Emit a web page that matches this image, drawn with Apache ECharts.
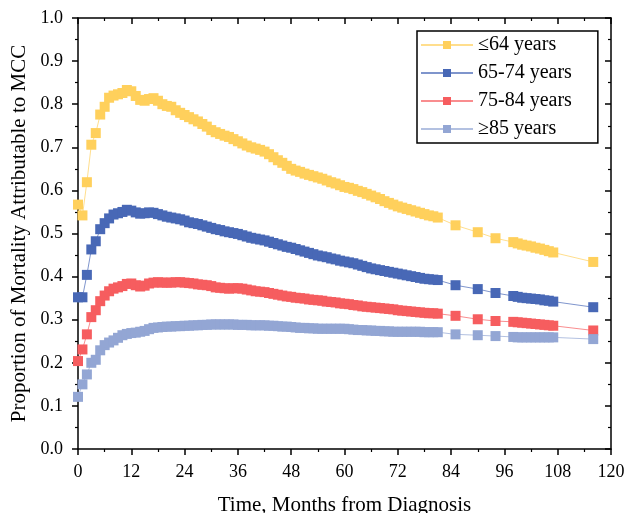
<!DOCTYPE html>
<html>
<head>
<meta charset="utf-8">
<script src="https://cdn.jsdelivr.net/npm/echarts@6/dist/echarts.min.js"></script>
<style>
  html, body { margin: 0; padding: 0; background: #fff; }
  #chart { width: 627px; height: 513px; }
</style>
</head>
<body>
<div id="chart"></div>
<script>
// months observed (monthly to 81, then sparse tail)
var months = [
  0,1,2,3,4,5,6,7,8,9,10,11,12,13,14,15,16,17,18,19,20,21,22,23,24,25,26,27,28,29,
  30,31,32,33,34,35,36,37,38,39,40,41,42,43,44,45,46,47,48,49,50,51,52,53,54,55,56,57,58,59,
  60,61,62,63,64,65,66,67,68,69,70,71,72,73,74,75,76,77,78,79,80,81,
  85,90,94,98,99,100,101,102,103,104,105,106,107,116
]

var age64 = [
  0.567,0.542,0.619,0.706,0.733,0.776,0.794,0.815,0.820,0.823,0.826,0.833,0.830,0.819,0.810,
  0.808,0.812,0.814,0.808,0.800,0.796,0.794,0.786,0.780,0.775,0.770,0.765,0.760,0.754,0.748,
  0.740,0.735,0.731,0.727,0.724,0.719,0.714,0.709,0.704,0.700,0.697,0.694,0.690,0.684,0.677,
  0.670,0.664,0.657,0.650,0.646,0.643,0.639,0.636,0.633,0.630,0.627,0.623,0.619,0.616,0.612,
  0.608,0.606,0.603,0.599,0.596,0.592,0.588,0.584,0.580,0.575,0.571,0.567,0.563,0.560,0.557,
  0.554,0.551,0.548,0.545,0.542,0.540,0.537,
  0.519,0.503,0.489,0.480,0.477,0.474,0.472,0.470,0.467,0.465,0.462,0.459,0.456,0.434
]

var age65to74 = [
  0.352,0.352,0.404,0.463,0.482,0.510,0.524,0.535,0.544,0.547,0.550,0.555,0.553,0.549,0.546,
  0.547,0.549,0.548,0.545,0.542,0.539,0.537,0.535,0.533,0.530,0.526,0.524,0.522,0.519,0.516,
  0.513,0.510,0.508,0.505,0.503,0.501,0.499,0.496,0.493,0.490,0.488,0.486,0.484,0.481,0.478,
  0.475,0.472,0.469,0.467,0.464,0.461,0.458,0.455,0.452,0.449,0.447,0.445,0.442,0.440,0.437,
  0.435,0.433,0.431,0.428,0.425,0.422,0.419,0.417,0.415,0.413,0.411,0.409,0.407,0.405,0.403,
  0.401,0.399,0.397,0.395,0.394,0.393,0.392,
  0.380,0.371,0.362,0.355,0.353,0.351,0.350,0.349,0.348,0.347,0.345,0.344,0.342,0.329
]

var age75to84 = [
  0.204,0.231,0.266,0.306,0.322,0.343,0.356,0.366,0.372,0.375,0.378,0.383,0.384,0.380,0.377,
  0.379,0.384,0.386,0.387,0.386,0.386,0.386,0.387,0.387,0.386,0.385,0.384,0.382,0.381,0.380,
  0.378,0.375,0.374,0.373,0.372,0.373,0.373,0.372,0.370,0.368,0.366,0.365,0.364,0.362,0.360,
  0.358,0.356,0.354,0.353,0.351,0.350,0.349,0.347,0.346,0.345,0.344,0.342,0.341,0.340,0.338,
  0.337,0.336,0.334,0.333,0.331,0.330,0.329,0.328,0.327,0.326,0.325,0.324,0.322,0.321,0.320,
  0.319,0.318,0.317,0.316,0.315,0.315,0.314,
  0.309,0.301,0.297,0.295,0.294,0.293,0.292,0.291,0.290,0.289,0.288,0.287,0.286,0.275
]

var age85 = [
  0.121,0.150,0.173,0.200,0.207,0.229,0.241,0.247,0.252,0.258,0.264,0.267,0.269,0.270,0.272,
  0.274,0.278,0.281,0.282,0.283,0.284,0.284,0.285,0.285,0.286,0.286,0.287,0.287,0.288,0.288,
  0.289,0.289,0.289,0.289,0.289,0.289,0.288,0.288,0.288,0.287,0.287,0.287,0.287,0.286,0.286,
  0.285,0.284,0.284,0.283,0.282,0.281,0.281,0.280,0.280,0.279,0.279,0.279,0.279,0.279,0.279,
  0.279,0.278,0.277,0.276,0.276,0.275,0.275,0.274,0.274,0.273,0.273,0.272,0.272,0.272,0.272,
  0.272,0.272,0.272,0.271,0.271,0.271,0.271,
  0.266,0.264,0.262,0.260,0.259,0.259,0.259,0.259,0.259,0.259,0.259,0.259,0.259,0.255
]

var seriesNames = ['\u226464 years', '65-74 years', '75-84 years', '\u226585 years']
var seriesValues = [age64, age65to74, age75to84, age85]
var colors = ['#FFD05C', '#4868B6', '#F65D5F', '#93A6D4']

var font = "'Liberation Serif', 'Times New Roman', serif"
var chart = echarts.init(document.getElementById('chart'))

var seriesList = seriesValues.map(function (vals, i) {
  return {
    name: seriesNames[i],
    type: 'line',
    xAxisIndex: 0,
    yAxisIndex: 0,
    symbol: 'rect',
    symbolSize: 10,
    showAllSymbol: true,
    animation: false,
    itemStyle: { color: colors[i], opacity: 1 },
    lineStyle: { color: colors[i], width: 1, opacity: 0.7 },
    data: months.map(function (m, j) { return [m, vals[j]] })
  }
})

var axisLine = { show: true, onZero: false, lineStyle: { color: '#000', width: 1.5 } }
var tick = function (inside) {
  return { show: true, inside: inside, length: 6, lineStyle: { color: '#000', width: 1.5 } }
}
var minor = function () {
  return { show: true, splitNumber: 2, length: 3, lineStyle: { color: '#000', width: 1.2 } }
}

chart.setOption({
  color: colors,
  textStyle: { fontFamily: font },
  grid: { left: 78, right: 16, top: 18, bottom: 64, outerBoundsMode: 'none' },
  legend: {
    orient: 'vertical',
    left: 417,
    top: 31,
    padding: [4, 26, 4, 3],
    itemWidth: 52,
    itemHeight: 10,
    itemGap: 8,
    borderColor: '#000',
    borderWidth: 1.5,
    backgroundColor: '#fff',
    textStyle: { fontFamily: font, fontSize: 20, lineHeight: 20, color: '#000' },
    data: seriesNames
  },
  xAxis: [{
    type: 'value',
    min: 0,
    max: 120,
    interval: 12,
    position: 'bottom',
    name: 'Time, Months from Diagnosis',
    nameLocation: 'middle',
    nameGap: 46,
    nameTextStyle: { fontFamily: font, fontSize: 21, color: '#000' },
    axisLine: axisLine,
    axisTick: tick(false),
    minorTick: minor(),
    axisLabel: { color: '#000', fontSize: 18, fontFamily: font, margin: 14 },
    splitLine: { show: false }
  }, {
    type: 'value',
    min: 0,
    max: 120,
    interval: 12,
    position: 'top',
    axisLine: axisLine,
    axisTick: tick(true),
    minorTick: minor(),
    axisLabel: { show: false },
    splitLine: { show: false }
  }],
  yAxis: [{
    type: 'value',
    min: 0,
    max: 1,
    interval: 0.1,
    position: 'left',
    name: 'Proportion of Mortality Attributable to MCC',
    nameLocation: 'middle',
    nameGap: 45,
    nameTextStyle: { fontFamily: font, fontSize: 21, color: '#000' },
    axisLine: axisLine,
    axisTick: tick(false),
    minorTick: minor(),
    axisLabel: {
      color: '#000', fontSize: 18, fontFamily: font, margin: 15,
      formatter: function (v) { return v.toFixed(1) }
    },
    splitLine: { show: false }
  }, {
    type: 'value',
    min: 0,
    max: 1,
    interval: 0.1,
    position: 'right',
    axisLine: axisLine,
    axisTick: tick(true),
    minorTick: minor(),
    axisLabel: { show: false },
    splitLine: { show: false }
  }],
  series: seriesList
})
</script>
</body>
</html>
